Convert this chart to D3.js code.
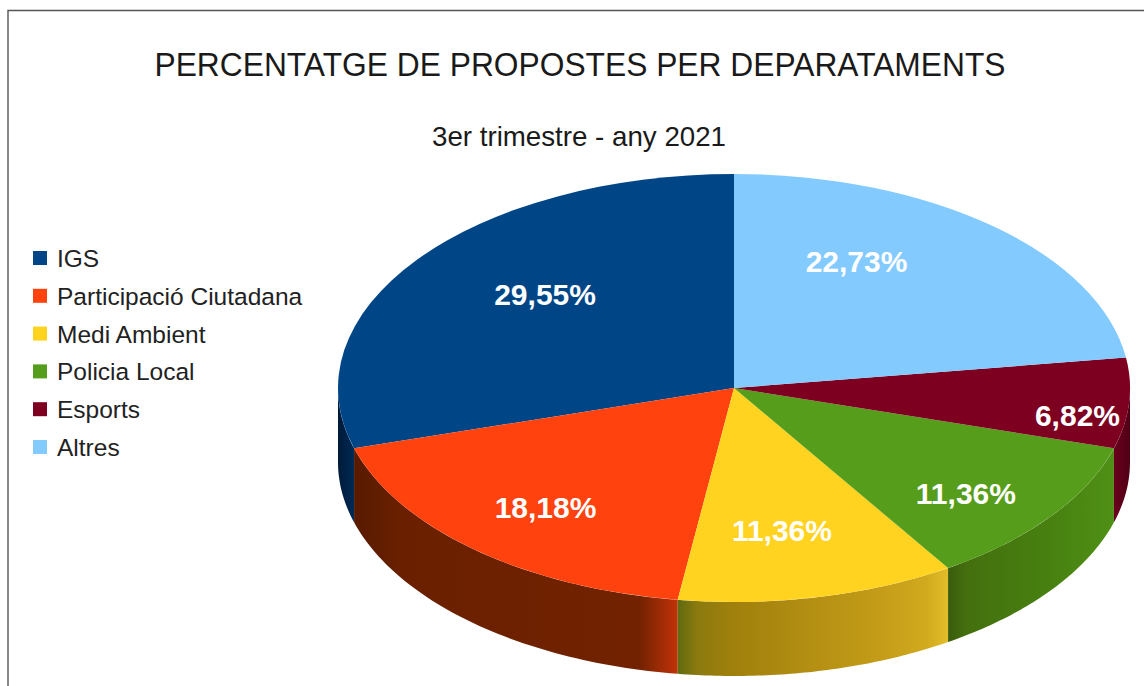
<!DOCTYPE html>
<html>
<head>
    <meta charset="utf-8">
    <title>Percentatge de propostes</title>
    <script src="https://d3js.org/d3.v7.min.js"></script>
    <style>
        body { margin: 0; background: #fff; }
        svg { display: block; font-family: "Liberation Sans", Arial, sans-serif; }
    </style>
</head>
<body>
    <svg id="chart" width="1144" height="686"></svg>

    <script>
        // data, in the order the legend lists it
        var categories = ["IGS", "Participació Ciutadana", "Medi Ambient", "Policia Local", "Esports", "Altres"];
        var values = [29.55, 18.18, 11.36, 11.36, 6.82, 22.73];
        var valueLabels = ["29,55%", "18,18%", "11,36%", "11,36%", "6,82%", "22,73%"];

        var colors = ["#004586", "#ff420e", "#ffd320", "#579d1c", "#7e0021", "#83caff"];
        // side wall gradients, left to right, [offset, colour]
        var sideColors = [
            [[0, "#001a38"], [1, "#002a55"]],
            [[0, "#581a00"], [0.15, "#6a2000"], [0.88, "#722200"], [0.95, "#a02c06"], [1, "#c23208"]],
            [[0, "#5f6a10"], [0.07, "#8a7a0e"], [0.2, "#a0800c"], [0.75, "#c49c18"], [0.92, "#d2aa1e"], [1, "#e2be2a"]],
            [[0, "#3a5c0c"], [0.12, "#44700e"], [0.6, "#478010"], [1, "#4f9016"]],
            [[0, "#6a001c"], [1, "#4f0016"]],
            [[0, "#83caff"], [1, "#83caff"]]
        ];
        // nudges from the 0.7 radius point, the labels are not placed evenly
        var labelNudge = [[33, -4], [-7, 6], [-11, -4], [10, 16], [67, 17], [-59, -13]];

        var cx = 734, cy = 388, rx = 396, ry = 214, depth = 74;
        var svg = d3.select("#chart");

        // chart frame, the screenshot cuts it off on the right and at the bottom
        svg.append("path")
            .attr("d", "M8,686V10.5H1144")
            .attr("fill", "none")
            .attr("stroke", "#555")
            .attr("stroke-width", 1.4);

        svg.append("text")
            .attr("x", 580).attr("y", 76)
            .attr("text-anchor", "middle")
            .attr("font-size", 34)
            .attr("textLength", 851)
            .attr("lengthAdjust", "spacingAndGlyphs")
            .attr("fill", "#1a1a1a")
            .text("PERCENTATGE DE PROPOSTES PER DEPARATAMENTS");

        svg.append("text")
            .attr("x", 579).attr("y", 146)
            .attr("text-anchor", "middle")
            .attr("font-size", 28)
            .attr("textLength", 294)
            .attr("lengthAdjust", "spacingAndGlyphs")
            .attr("fill", "#1a1a1a")
            .text("3er trimestre - any 2021");

        // legend
        var rowY = d3.scalePoint().domain(categories).range([258, 447]);
        var legend = svg.append("g").selectAll("g")
            .data(categories)
            .join("g")
            .attr("transform", function(d) { return "translate(33," + rowY(d) + ")"; });
        legend.append("rect")
            .attr("y", -7).attr("width", 14).attr("height", 14)
            .attr("fill", function(d, i) { return colors[i]; });
        legend.append("text")
            .attr("x", 24).attr("y", 9)
            .attr("font-size", 24.5)
            .attr("fill", "#222")
            .text(function(d) { return d; });

        // pie starts at Altres, going clockwise from 12 o'clock
        var turnOrder = [5, 4, 3, 2, 1, 0];
        var pie = d3.pie()
            .sort(function(a, b) { return turnOrder.indexOf(a) - turnOrder.indexOf(b); })
            .value(function(i) { return values[i]; });
        var slices = pie(d3.range(values.length));

        var defs = svg.append("defs");
        var pi = Math.PI;

        function ellipsePoint(a) {
            return [cx + rx * Math.sin(a), cy - ry * Math.cos(a)];
        }

        var wallLine = d3.line();
        function wall(d) {
            // only the front half of the rim is seen
            var a0 = Math.max(d.startAngle, pi / 2), a1 = Math.min(d.endAngle, pi * 3 / 2);
            if (a1 <= a0) return null;
            var top = d3.range(0, 61).map(function(k) { return ellipsePoint(a0 + (a1 - a0) * k / 60); });
            var bottom = top.slice().reverse().map(function(p) { return [p[0], p[1] + depth]; });
            return wallLine(top.concat(bottom)) + "Z";
        }

        slices.forEach(function(d) {
            var i = d.data;
            var a0 = Math.max(d.startAngle, pi / 2), a1 = Math.min(d.endAngle, pi * 3 / 2);
            if (a1 <= a0) return;
            var xa = ellipsePoint(a0)[0], xb = ellipsePoint(a1)[0];
            var g = defs.append("linearGradient")
                .attr("id", "side" + i)
                .attr("gradientUnits", "userSpaceOnUse")
                .attr("x1", Math.min(xa, xb)).attr("x2", Math.max(xa, xb))
                .attr("y1", 0).attr("y2", 0);
            sideColors[i].forEach(function(s) {
                g.append("stop").attr("offset", s[0]).attr("stop-color", s[1]);
            });
        });

        svg.append("g").selectAll("path")
            .data(slices.filter(function(d) { return wall(d); }))
            .join("path")
            .attr("d", wall)
            .attr("fill", function(d) { return "url(#side" + d.data + ")"; });

        // top face is a circle squashed to the ellipse
        var arc = d3.arc().innerRadius(0).outerRadius(rx);
        svg.append("g")
            .attr("transform", "translate(" + cx + "," + cy + ") scale(1," + (ry / rx) + ")")
            .selectAll("path")
            .data(slices)
            .join("path")
            .attr("d", arc)
            .attr("fill", function(d) { return colors[d.data]; });

        var labelArc = d3.arc().innerRadius(rx * 0.7).outerRadius(rx * 0.7);
        svg.append("g").selectAll("text")
            .data(slices)
            .join("text")
            .attr("x", function(d) { return cx + labelArc.centroid(d)[0] + labelNudge[d.data][0]; })
            .attr("y", function(d) { return cy + labelArc.centroid(d)[1] * ry / rx + labelNudge[d.data][1]; })
            .attr("dy", "0.35em")
            .attr("text-anchor", "middle")
            .attr("font-size", 30)
            .attr("font-weight", "bold")
            .attr("fill", "#fff")
            .text(function(d) { return valueLabels[d.data]; });
    </script>
</body>
</html>
